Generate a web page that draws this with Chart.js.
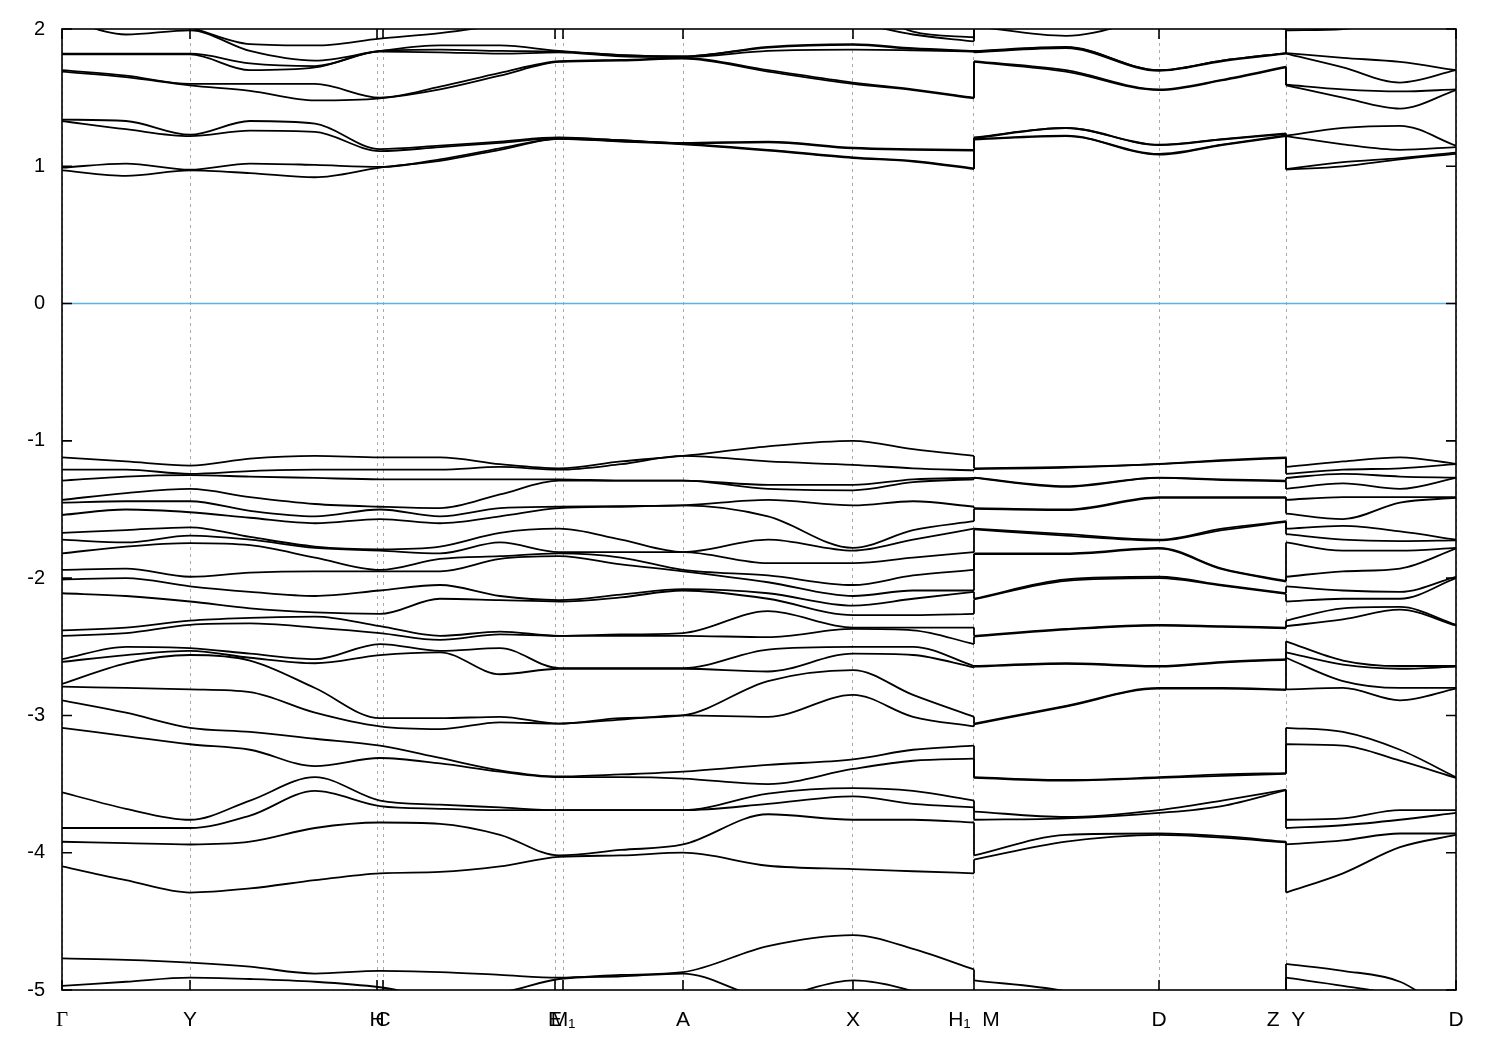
<!DOCTYPE html>
<html>
<head>
<meta charset="utf-8">
<script src="https://cdn.jsdelivr.net/npm/chart.js@4.4.1/dist/chart.umd.min.js"></script>
<style>
  html, body { margin: 0; padding: 0; background: #fff; }
</style>
</head>
<body>
<canvas id="bands" width="1500" height="1050"></canvas>
<script>
// k-path distance of each sampled node (Gamma ... H1 | M ... Z | Y ... D)
const kNodes = [0, 64, 128, 188, 253, 318, 378, 438, 497, 559, 621, 706, 791, 851, 912,
                912, 1004, 1097, 1160, 1224,
                1224, 1281, 1338, 1394];

const tickPos = [0, 128, 315, 321, 493, 501, 621, 791, 912, 1097, 1224, 1394];
const tickLabels = ["Γ", "Y", "H", "C", "E", "M₁", "A", "X", "H₁  M", "D", "Z  Y", "D"];

// conduction bands (eV), sorted, one array per k node
const cG  = [2.3, 2.15, 2.08, 1.82, 1.815, 1.70, 1.69, 1.34, 1.33, 0.99, 0.97];
const c1  = [2.3, 2.10, 1.96, 1.82, 1.815, 1.66, 1.65, 1.33, 1.27, 1.02, 0.93];
const cY  = [2.3, 2.01, 1.99, 1.82, 1.815, 1.60, 1.59, 1.23, 1.22, 0.975, 0.97];
const c3  = [2.3, 1.89, 1.84, 1.75, 1.70, 1.60, 1.55, 1.33, 1.26, 1.02, 0.95];
const c4  = [2.3, 1.88, 1.77, 1.73, 1.72, 1.60, 1.48, 1.31, 1.25, 1.01, 0.92];
const cH  = [2.3, 1.93, 1.84, 1.84, 1.835, 1.50, 1.495, 1.125, 1.11, 0.995, 0.99];
const c6  = [2.3, 1.97, 1.88, 1.85, 1.83, 1.58, 1.56, 1.15, 1.14, 1.05, 1.04];
const c7  = [2.3, 2.03, 1.88, 1.84, 1.82, 1.68, 1.66, 1.18, 1.17, 1.13, 1.12];
const cE  = [2.3, 2.1, 1.84, 1.835, 1.83, 1.765, 1.76, 1.21, 1.205, 1.20, 1.20];
const c9  = [2.3, 2.15, 1.81, 1.81, 1.80, 1.775, 1.77, 1.19, 1.19, 1.185, 1.18];
const cA  = [2.3, 2.2, 1.80, 1.80, 1.795, 1.79, 1.785, 1.17, 1.167, 1.165, 1.16];
const c11 = [2.3, 2.15, 1.87, 1.865, 1.84, 1.70, 1.69, 1.18, 1.175, 1.12, 1.115];
const cX  = [2.2, 2.05, 1.89, 1.885, 1.85, 1.61, 1.60, 1.135, 1.13, 1.065, 1.06];
const c13 = [1.98, 1.96, 1.86, 1.855, 1.845, 1.56, 1.555, 1.125, 1.12, 1.04, 1.035];
const cH1 = [1.94, 1.91, 1.84, 1.838, 1.835, 1.50, 1.495, 1.12, 1.115, 0.985, 0.98];
const cM  = [2.05, 2.02, 1.84, 1.835, 1.83, 1.765, 1.76, 1.21, 1.205, 1.20, 1.195];
const c16 = [2.3, 1.95, 1.87, 1.866, 1.86, 1.70, 1.69, 1.28, 1.279, 1.223, 1.22];
const cD  = [2.3, 2.08, 1.70, 1.70, 1.695, 1.56, 1.555, 1.157, 1.155, 1.09, 1.085];
const c18 = [2.3, 2.1, 1.77, 1.77, 1.765, 1.63, 1.625, 1.198, 1.195, 1.157, 1.155];
const cZ  = [2.3, 2.0, 1.825, 1.825, 1.82, 1.725, 1.72, 1.24, 1.235, 1.225, 1.22];
const cY2 = [2.3, 2.01, 1.99, 1.825, 1.82, 1.594, 1.59, 1.223, 1.22, 0.98, 0.975];
const c21 = [2.3, 2.1, 2.0, 1.79, 1.72, 1.56, 1.50, 1.28, 1.16, 1.03, 1.00];
const c22 = [2.3, 2.1, 2.05, 1.76, 1.61, 1.545, 1.42, 1.295, 1.12, 1.06, 1.05];
const cD2 = [2.3, 2.1, 2.08, 1.70, 1.70, 1.56, 1.555, 1.15, 1.14, 1.10, 1.09];

// valence bands (eV), sorted, one array per k node
const vG  = [-1.12, -1.21, -1.29, -1.43, -1.45, -1.54, -1.67, -1.72, -1.82, -1.94, -2.01, -2.11, -2.38, -2.42, -2.59, -2.61, -2.77, -2.79, -2.89, -3.09, -3.56, -3.82, -3.92, -4.10, -4.77, -4.97, -5.3];
const v1  = [-1.15, -1.21, -1.26, -1.38, -1.44, -1.50, -1.65, -1.74, -1.77, -1.93, -2.00, -2.13, -2.36, -2.40, -2.50, -2.56, -2.62, -2.80, -2.98, -3.15, -3.68, -3.82, -3.93, -4.20, -4.78, -4.94, -5.3];
const vY  = [-1.18, -1.24, -1.25, -1.35, -1.44, -1.52, -1.63, -1.69, -1.745, -1.99, -2.06, -2.17, -2.31, -2.34, -2.51, -2.53, -2.56, -2.81, -3.09, -3.21, -3.76, -3.82, -3.94, -4.29, -4.80, -4.91, -5.3];
const v3  = [-1.13, -1.22, -1.26, -1.41, -1.51, -1.56, -1.70, -1.72, -1.76, -1.96, -2.10, -2.22, -2.29, -2.33, -2.55, -2.58, -2.60, -2.83, -3.12, -3.25, -3.62, -3.73, -3.92, -4.26, -4.83, -4.92, -5.3];
const v4  = [-1.11, -1.21, -1.27, -1.46, -1.55, -1.60, -1.77, -1.78, -1.85, -1.95, -2.13, -2.25, -2.28, -2.36, -2.59, -2.62, -2.80, -2.98, -3.17, -3.37, -3.45, -3.55, -3.82, -4.20, -4.88, -4.94, -5.3];
const vH  = [-1.12, -1.21, -1.28, -1.48, -1.50, -1.57, -1.79, -1.80, -1.94, -1.95, -2.09, -2.26, -2.35, -2.40, -2.48, -2.56, -3.02, -3.08, -3.22, -3.31, -3.62, -3.66, -3.78, -4.15, -4.86, -4.98, -5.3];
const v6  = [-1.12, -1.21, -1.28, -1.49, -1.55, -1.60, -1.77, -1.82, -1.86, -1.95, -2.05, -2.15, -2.42, -2.45, -2.53, -2.54, -3.02, -3.10, -3.31, -3.35, -3.65, -3.68, -3.79, -4.14, -4.87, -5.05, -5.3];
const v7  = [-1.17, -1.19, -1.28, -1.39, -1.49, -1.55, -1.67, -1.74, -1.84, -1.86, -2.13, -2.16, -2.39, -2.41, -2.51, -2.70, -3.01, -3.05, -3.40, -3.41, -3.67, -3.69, -3.87, -4.10, -4.89, -5.02, -5.3];
const vE  = [-1.20, -1.21, -1.28, -1.29, -1.48, -1.49, -1.64, -1.81, -1.82, -1.84, -2.16, -2.17, -2.42, -2.42, -2.655, -2.66, -3.06, -3.06, -3.445, -3.45, -3.69, -3.69, -4.02, -4.03, -4.91, -4.92, -5.3];
const v9  = [-1.15, -1.17, -1.29, -1.29, -1.475, -1.48, -1.72, -1.81, -1.85, -1.90, -2.12, -2.14, -2.41, -2.42, -2.655, -2.66, -3.02, -3.03, -3.43, -3.45, -3.69, -3.69, -3.98, -4.02, -4.89, -4.90, -5.3];
const vA  = [-1.11, -1.11, -1.29, -1.29, -1.47, -1.47, -1.81, -1.81, -1.94, -1.95, -2.08, -2.09, -2.40, -2.42, -2.655, -2.66, -3.00, -3.00, -3.41, -3.46, -3.69, -3.69, -3.94, -4.00, -4.87, -4.88, -5.2];
const v11 = [-1.04, -1.15, -1.32, -1.35, -1.43, -1.55, -1.72, -1.89, -1.98, -2.03, -2.11, -2.15, -2.24, -2.43, -2.52, -2.68, -2.75, -3.01, -3.36, -3.50, -3.57, -3.645, -3.72, -4.095, -4.68, -5.05, -5.2];
const vX  = [-1.00, -1.175, -1.32, -1.36, -1.47, -1.78, -1.80, -1.89, -2.05, -2.13, -2.20, -2.27, -2.36, -2.37, -2.50, -2.55, -2.67, -2.85, -3.32, -3.39, -3.53, -3.59, -3.76, -4.12, -4.60, -4.93, -5.2];
const v13 = [-1.06, -1.20, -1.28, -1.30, -1.44, -1.65, -1.72, -1.85, -1.98, -2.09, -2.15, -2.27, -2.36, -2.38, -2.50, -2.56, -2.85, -3.01, -3.25, -3.33, -3.55, -3.645, -3.76, -4.135, -4.70, -5.01, -5.2];
const vH1 = [-1.11, -1.215, -1.27, -1.28, -1.48, -1.585, -1.64, -1.81, -1.94, -2.09, -2.10, -2.26, -2.36, -2.48, -2.64, -2.65, -3.01, -3.08, -3.22, -3.315, -3.62, -3.67, -3.78, -4.15, -4.85, -5.2, -5.25];
const vM  = [-1.20, -1.205, -1.268, -1.27, -1.49, -1.495, -1.64, -1.645, -1.82, -1.825, -2.15, -2.155, -2.42, -2.425, -2.64, -2.645, -3.06, -3.065, -3.45, -3.455, -3.70, -3.76, -4.02, -4.05, -4.93, -5.2, -5.3];
const v16 = [-1.19, -1.195, -1.33, -1.335, -1.50, -1.505, -1.68, -1.69, -1.82, -1.825, -2.01, -2.02, -2.37, -2.375, -2.62, -2.625, -2.93, -2.935, -3.47, -3.475, -3.74, -3.75, -3.87, -3.92, -5.01, -5.2, -5.3];
const vD  = [-1.167, -1.17, -1.268, -1.27, -1.41, -1.415, -1.72, -1.725, -1.78, -1.785, -1.99, -2.00, -2.34, -2.345, -2.64, -2.645, -2.80, -2.805, -3.45, -3.455, -3.69, -3.71, -3.86, -3.87, -5.2, -5.25, -5.3];
const v18 = [-1.14, -1.145, -1.28, -1.285, -1.41, -1.415, -1.64, -1.65, -1.93, -1.935, -2.05, -2.055, -2.35, -2.355, -2.61, -2.615, -2.80, -2.805, -3.43, -3.44, -3.62, -3.66, -3.88, -3.89, -5.2, -5.25, -5.3];
const vZ  = [-1.12, -1.125, -1.29, -1.295, -1.41, -1.415, -1.585, -1.59, -2.02, -2.025, -2.11, -2.115, -2.36, -2.365, -2.59, -2.595, -2.81, -2.815, -3.42, -3.425, -3.54, -3.545, -3.92, -3.925, -5.2, -5.25, -5.3];
const vY2 = [-1.19, -1.24, -1.27, -1.35, -1.43, -1.53, -1.64, -1.68, -1.74, -1.99, -2.06, -2.17, -2.31, -2.35, -2.46, -2.54, -2.58, -2.81, -3.09, -3.21, -3.76, -3.82, -3.94, -4.29, -4.81, -4.91, -5.3];
const v21 = [-1.15, -1.21, -1.24, -1.31, -1.41, -1.57, -1.62, -1.72, -1.80, -1.95, -2.09, -2.15, -2.22, -2.30, -2.60, -2.63, -2.75, -2.80, -3.12, -3.22, -3.75, -3.80, -3.91, -4.15, -4.86, -4.97, -5.3];
const v22 = [-1.12, -1.20, -1.26, -1.35, -1.41, -1.45, -1.66, -1.73, -1.80, -1.93, -2.10, -2.15, -2.21, -2.23, -2.64, -2.66, -2.80, -2.89, -3.25, -3.33, -3.69, -3.76, -3.86, -3.96, -4.94, -5.05, -5.3];
const vD2 = vD;

const conduction = [cG, c1, cY, c3, c4, cH, c6, c7, cE, c9, cA, c11, cX, c13, cH1,
                    cM, c16, cD, c18, cZ, cY2, c21, c22, cD2];
const valence = [vG, v1, vY, v3, v4, vH, v6, v7, vE, v9, vA, v11, vX, v13, vH1,
                 vM, v16, vD, v18, vZ, vY2, v21, v22, vD2];

const segments = [[0, 14], [15, 19], [20, 23]];
const jumps = [[14, 15], [19, 20]];

const lineStyle = {
  borderColor: "#000",
  borderWidth: 1.8,
  pointRadius: 0,
  fill: false,
  clip: 0,
};

const datasets = [];

// Fermi level
datasets.push({
  data: [{ x: 0, y: 0 }, { x: 1394, y: 0 }],
  borderColor: "#56b4e9",
  borderWidth: 1.5,
  pointRadius: 0,
  fill: false,
});

function addBands(cols) {
  const n = cols[0].length;
  for (let b = 0; b < n; b++) {
    segments.forEach(([s, e]) => {
      const pts = [];
      for (let i = s; i <= e; i++) pts.push({ x: kNodes[i], y: cols[i][b] });
      datasets.push(Object.assign({ data: pts, cubicInterpolationMode: "monotone" }, lineStyle));
    });
    jumps.forEach(([a, c]) => {
      datasets.push(Object.assign({
        data: [{ x: kNodes[a], y: cols[a][b] }, { x: kNodes[c], y: cols[c][b] }],
        tension: 0,
      }, lineStyle));
    });
  }
}
addBands(conduction);
addBands(valence);

// frame and inward tick marks, gnuplot style
const framePlugin = {
  id: "frame",
  afterDatasetsDraw(chart) {
    const { ctx, chartArea: a, scales } = chart;
    ctx.save();
    ctx.strokeStyle = "#000";
    ctx.lineWidth = 1.6;
    ctx.strokeRect(a.left, a.top, a.right - a.left, a.bottom - a.top);
    ctx.beginPath();
    scales.y.ticks.forEach((t) => {
      const py = scales.y.getPixelForValue(t.value);
      ctx.moveTo(a.left, py); ctx.lineTo(a.left + 10, py);
      ctx.moveTo(a.right, py); ctx.lineTo(a.right - 10, py);
    });
    tickPos.forEach((v) => {
      const px = scales.x.getPixelForValue(v);
      ctx.moveTo(px, a.bottom); ctx.lineTo(px, a.bottom - 10);
      ctx.moveTo(px, a.top); ctx.lineTo(px, a.top + 10);
    });
    ctx.stroke();
    ctx.restore();
  },
};

new Chart(document.getElementById("bands"), {
  type: "line",
  data: { datasets: datasets },
  options: {
    responsive: false,
    animation: false,
    events: [],
    devicePixelRatio: 1,
    layout: { padding: { top: 28, right: 44, left: 0, bottom: 0 } },
    plugins: {
      legend: { display: false },
      tooltip: { enabled: false },
    },
    scales: {
      x: {
        type: "linear",
        min: 0,
        max: 1394,
        afterBuildTicks: (scale) => {
          scale.ticks = tickPos.map((v) => ({ value: v }));
        },
        afterFit: (scale) => { scale.height = 60; },
        ticks: {
          autoSkip: false,
          maxRotation: 0,
          minRotation: 0,
          padding: 18,
          color: "#000",
          font: (ctx) => ({
            family: ctx.index === 0 ? "Liberation Serif" : "Liberation Sans",
            size: 21,
          }),
          callback: (value, index) => tickLabels[index],
        },
        grid: { color: "#aaaaaa", lineWidth: 1, drawTicks: false },
        border: { display: false, dash: [3, 4] },
      },
      y: {
        min: -5,
        max: 2,
        afterFit: (scale) => { scale.width = 62; },
        ticks: {
          stepSize: 1,
          padding: 17,
          color: "#000",
          font: { family: "Liberation Sans", size: 20 },
        },
        grid: { display: false, drawTicks: false },
        border: { display: false },
      },
    },
  },
  plugins: [framePlugin],
});
</script>
</body>
</html>
